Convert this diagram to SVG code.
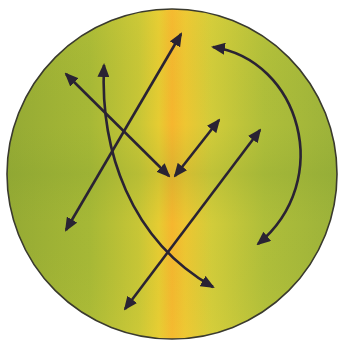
<svg xmlns="http://www.w3.org/2000/svg" width="340" height="343" viewBox="0 0 340 343">
  <defs>
    <linearGradient id="hg" x1="7" y1="0" x2="337" y2="0" gradientUnits="userSpaceOnUse">
      <stop offset="0" stop-color="#95aa34"/>
      <stop offset="0.25" stop-color="#a6b836"/>
      <stop offset="0.4" stop-color="#c8c636"/>
      <stop offset="0.46" stop-color="#e6cc32"/>
      <stop offset="0.5" stop-color="#f6b62e"/>
      <stop offset="0.54" stop-color="#eec632"/>
      <stop offset="0.62" stop-color="#d2cc3a"/>
      <stop offset="0.78" stop-color="#afbe3a"/>
      <stop offset="1" stop-color="#9cb23a"/>
    </linearGradient>
    <linearGradient id="vg" x1="0" y1="9" x2="0" y2="339" gradientUnits="userSpaceOnUse">
      <stop offset="0" stop-color="#f0dc40" stop-opacity="0.12"/>
      <stop offset="0.35" stop-color="#8aa832" stop-opacity="0"/>
      <stop offset="0.5" stop-color="#7e9e30" stop-opacity="0.22"/>
      <stop offset="0.65" stop-color="#8aa832" stop-opacity="0"/>
      <stop offset="1" stop-color="#f0dc40" stop-opacity="0.12"/>
    </linearGradient>
    <marker id="ah" viewBox="0 0 14 12" refX="12" refY="6" markerWidth="14" markerHeight="12" markerUnits="userSpaceOnUse" orient="auto-start-reverse">
      <path d="M0,0 L14,6 L0,12 z" fill="#2a2333"/>
    </marker>
  </defs>
  <style>
    .arr { fill: none; stroke: #2a2333; stroke-width: 2.6; marker-start: url(#ah); marker-end: url(#ah); }
  </style>
  <rect width="340" height="343" fill="#ffffff"/>
  <g id="disc">
    <circle cx="172" cy="174" r="165" fill="url(#hg)"/>
    <circle cx="172" cy="174" r="165" fill="url(#vg)" stroke="#3a3a2e" stroke-width="1.6"/>
  </g>
  <g id="connectors">
    <line class="arr" x1="66" y1="230" x2="181" y2="34"/>
    <line class="arr" x1="66" y1="74" x2="169" y2="176"/>
    <line class="arr" x1="175" y1="176" x2="219" y2="120"/>
    <line class="arr" x1="125" y1="309" x2="260" y2="130"/>
    <path class="arr" d="M104,65 C100,150 130,240 213,287"/>
    <path class="arr" d="M213,47 C300,60 335,180 258,244"/>
  </g>
</svg>
